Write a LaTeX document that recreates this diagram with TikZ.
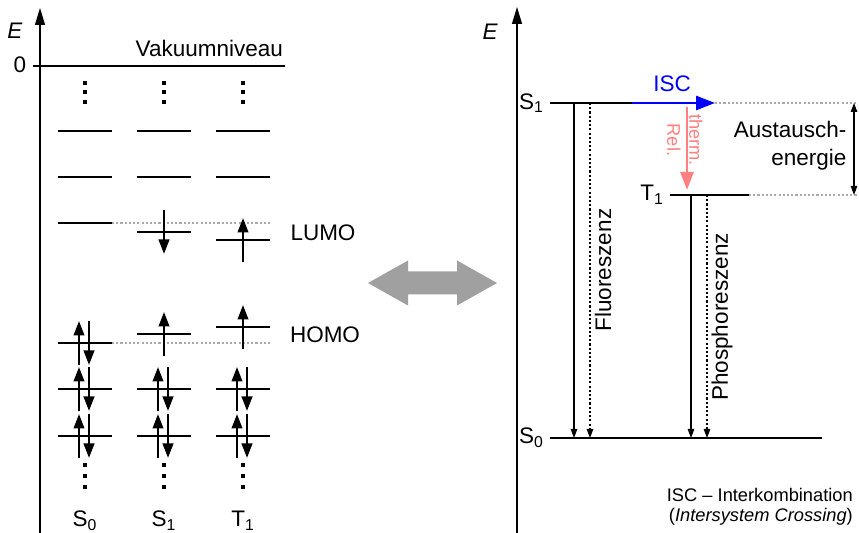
\documentclass[tikz,border=0pt]{standalone}
\usepackage{fontspec}
\setmainfont{Liberation Sans}
\usetikzlibrary{arrows.meta}
\definecolor{iscblue}{RGB}{0,0,255}
\definecolor{relpink}{RGB}{255,128,128}
\definecolor{arrowgray}{RGB}{160,160,160}
\definecolor{guidegray}{RGB}{170,170,170}
\begin{document}
\begin{tikzpicture}[
  font=\fontsize{12.8}{15}\selectfont,
  level/.style={line width=0.6pt},
  spin/.style={line width=1.35pt,-{Triangle[length=2.9mm,width=2.1mm]}},
  guide/.style={guidegray,line width=0.6pt,dash pattern=on 1.2pt off 1.2pt},
  axis/.style={line width=0.7pt,-{Triangle[length=3.4mm,width=2mm]}},
  emit/.style={line width=0.6pt,-{Triangle[length=1.8mm,width=1.3mm]}},
  emitdot/.style={emit,dash pattern=on 1.2pt off 1.2pt},
  small/.style={font=\fontsize{10.4}{11.4}\selectfont}
]
\useasboundingbox (0,0) rectangle (17.18,10.66);

% left: orbital occupation
\draw[axis] (0.8,0) -- (0.8,10.5);
\node (Eleft) at (0.3,10.04) {\itshape E};
\draw[level] (0.66,9.34) -- (5.7,9.34);
\node (zero) at (0.4,9.36) {0};
\node[anchor=base east] (vakuum) at (5.78,9.52) {Vakuumniveau};
\foreach \x in {1.7,3.28,4.86} {
  \foreach \y in {9.0,8.81,8.62,1.36,1.14,0.92}
    \fill (\x-0.04,\y-0.04) rectangle (\x+0.04,\y+0.04);
  \foreach \y in {8.04,7.12}
    \draw[level] (\x-0.54,\y) -- (\x+0.54,\y);
  \foreach \y in {2.88,1.94} {
    \draw[level] (\x-0.54,\y) -- (\x+0.54,\y);
    \draw[spin] (\x-0.12,\y-0.44) -- (\x-0.12,\y+0.44);
    \draw[spin] (\x+0.08,\y+0.44) -- (\x+0.08,\y-0.44);
  }
}
% LUMO
\draw[level] (1.16,6.2) -- (2.24,6.2);
\draw[guide] (2.24,6.2) -- (5.4,6.2);
\draw[level] (2.74,6.02) -- (3.82,6.02);
\draw[level] (4.32,5.86) -- (5.4,5.86);
\draw[spin] (3.28,6.46) -- (3.28,5.58);
\draw[spin] (4.86,5.42) -- (4.86,6.3);
\node (lumo) at (6.46,6.0) {LUMO};
% HOMO
\draw[level] (1.16,3.8) -- (2.24,3.8);
\draw[guide] (2.24,3.8) -- (5.4,3.8);
\draw[spin] (1.58,3.36) -- (1.58,4.24);
\draw[spin] (1.78,4.24) -- (1.78,3.36);
\draw[level] (2.74,3.98) -- (3.82,3.98);
\draw[spin] (3.28,3.54) -- (3.28,4.42);
\draw[level] (4.32,4.12) -- (5.4,4.12);
\draw[spin] (4.86,3.68) -- (4.86,4.56);
\node (homo) at (6.5,3.96) {HOMO};
\node[anchor=base] (colS0) at (1.7,0.12) {S\textsubscript{0}};
\node[anchor=base] (colS1) at (3.28,0.12) {S\textsubscript{1}};
\node[anchor=base] (colT1) at (4.86,0.12) {T\textsubscript{1}};

% equivalence arrow
\fill[arrowgray] (7.36,5) -- (8.16,5.45) -- (8.16,5.23) -- (9.14,5.23) -- (9.14,5.45)
  -- (9.94,5) -- (9.14,4.55) -- (9.14,4.77) -- (8.16,4.77) -- (8.16,4.55) -- cycle;

% right: state diagram
\draw[axis] (10.34,0) -- (10.34,10.52);
\node (Eright) at (9.8,10.02) {\itshape E};
\coordinate (S1) at (11.0,8.6);
\coordinate (T1) at (13.4,6.76);
\coordinate (S0) at (11.0,1.9);
\coordinate (isc) at (12.64,8.6);
\coordinate (iscend) at (14.3,8.6);
\coordinate (t1end) at (14.98,6.76);
\node[left] (labS1) at (S1) {S\textsubscript{1}};
\node[left] (labT1) at (T1) {T\textsubscript{1}};
\node[left] (labS0) at (S0) {S\textsubscript{0}};
\draw[level] (S1) -- (isc);
\draw[iscblue,line width=1.5pt,-{Triangle[length=3.8mm,width=2.8mm]}] (isc) -- (iscend);
\node[iscblue] (isclabel) at (13.44,8.98) {ISC};
\draw[guide] (iscend) -- (17.16,8.6);
\draw[level] (T1) -- (t1end);
\draw[guide] (t1end) -- (17.16,6.76);
\draw[level] (S0) -- (16.44,1.9);
\draw[relpink,line width=1.5pt,-{Triangle[length=3.6mm,width=2.6mm]}] (13.74,8.52) -- (13.74,6.86);
\node[relpink,rotate=-90,align=center,font=\fontsize{10.4}{12.5}\selectfont] (relax) at (13.7,7.86) {therm.\\Rel.};
\draw[line width=0.6pt,{Triangle[length=1.8mm,width=1.3mm]}-{Triangle[length=1.8mm,width=1.3mm]}] (17.08,8.6) -- (17.08,6.76);
\node[anchor=east,align=right,font=\fontsize{12.8}{16}\selectfont] (exchange) at (17.05,7.74) {Austausch-\\energie};
\draw[emit] ([xshift=0.48cm]S1) -- ([xshift=0.48cm]S0);
\draw[emitdot] ([xshift=0.8cm]S1) -- ([xshift=0.8cm]S0);
\node[rotate=90] (fluo) at (12.06,5.26) {Fluoreszenz};
\draw[emit] ([xshift=0.42cm]T1) -- ([xshift=0.42cm]T1 |- S0);
\draw[emitdot] ([xshift=0.74cm]T1) -- ([xshift=0.74cm]T1 |- S0);
\node[rotate=90] (phos) at (14.44,4.32) {Phosphoreszenz};
\node[anchor=east,align=right,small] (note) at (17.18,0.52) {ISC – Interkombination\\(\textit{Intersystem Crossing})};
\end{tikzpicture}
\end{document}
